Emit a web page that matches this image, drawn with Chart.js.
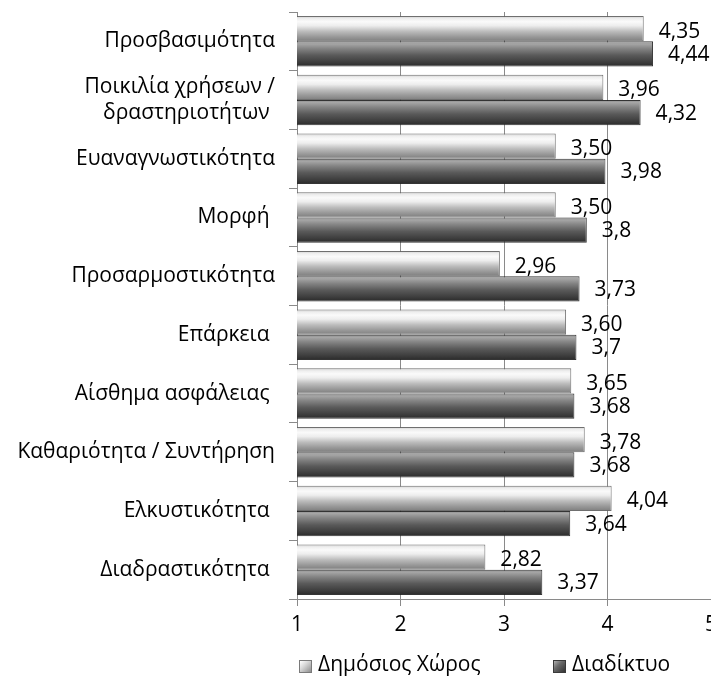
<!DOCTYPE html>
<html>
<head>
<meta charset="utf-8">
<script src="https://cdn.jsdelivr.net/npm/chart.js@4/dist/chart.umd.min.js"></script>
<style>
  html, body { margin: 0; padding: 0; background: #fff; overflow: hidden; }
  #wrap { position: relative; width: 711px; height: 676px; }
  #wrap canvas { position: absolute; left: 0; top: 0; }
  .legend-item { position: absolute; top: 653px; height: 21px; line-height: 21px;
    font-family: "Open Sans", sans-serif; font-size: 21px; color: #000; white-space: nowrap; }
  .swatch { position: absolute; top: 660px; width: 13px; height: 13px; box-sizing: border-box; }
  .sw-light { left: 299px; border: 1px solid #7a7a7a;
    background: linear-gradient(135deg, #ffffff 0%, #d8d8d8 40%, #8e8e8e 100%); }
  .sw-dark { left: 553px; border: 1px solid #3a3a3a;
    background: linear-gradient(135deg, #b0b0b0 0%, #6a6a6a 40%, #333 100%); }
</style>
</head>
<body>
<div id="wrap">
  <canvas id="chart" width="711" height="676"></canvas>
  <div class="swatch sw-light"></div>
  <div class="legend-item" style="left:318px">Δημόσιος Χώρος</div>
  <div class="swatch sw-dark"></div>
  <div class="legend-item" style="left:572px">Διαδίκτυο</div>
</div>
<script>
// Evaluation criteria (rows of the chart)
const criteria = [
  'Προσβασιμότητα',
  ['Ποικιλία χρήσεων /', 'δραστηριοτήτων '],
  'Ευαναγνωστικότητα',
  'Μορφή ',
  'Προσαρμοστικότητα',
  'Επάρκεια ',
  'Αίσθημα ασφάλειας ',
  'Καθαριότητα / Συντήρηση',
  'Ελκυστικότητα ',
  'Διαδραστικότητα '
];

// Mean scores per criterion
const publicSpace = [4.35, 3.96, 3.50, 3.50, 2.96, 3.60, 3.65, 3.78, 4.04, 2.82];
const internet    = [4.44, 4.32, 3.98, 3.8, 3.73, 3.7, 3.68, 3.68, 3.64, 3.37];

// Axis ticks
const axisTicks = [1, 2, 3, 4, 5];

const seriesNames = ['Δημόσιος Χώρος', 'Διαδίκτυο'];

const CAT_PCT = 0.86;
const FONT = '"Open Sans", sans-serif';

const lightStops = [
  [0, '#cfcfcf'], [0.1, '#eeeeee'], [0.22, '#fafafa'], [0.38, '#ededed'],
  [0.6, '#bdbdbd'], [0.82, '#989898'], [0.95, '#858585'], [1, '#6a6a6a']
];
const darkStops = [
  [0, '#8c8c8c'], [0.1, '#a6a6a6'], [0.28, '#858585'], [0.55, '#5a5a5a'],
  [0.82, '#3e3e3e'], [1, '#2a2a2a']
];

// Vertical shading for each bar, computed from the category scale
function barFill(stops, datasetIndex, fallback) {
  return function (ctx) {
    const chart = ctx.chart;
    const ys = chart.scales && chart.scales.y;
    if (!chart.chartArea || !ys || ctx.dataIndex === undefined) return fallback;
    const center = ys.getPixelForValue(ctx.dataIndex);
    const cat = ys.height / criteria.length;
    const thick = cat * CAT_PCT / 2;
    const top = datasetIndex === 0 ? center - thick : center;
    const g = chart.ctx.createLinearGradient(0, top, 0, top + thick);
    stops.forEach(s => g.addColorStop(s[0], s[1]));
    return g;
  };
}

function fmt(v, datasetIndex) {
  const s = datasetIndex === 0 ? v.toFixed(2) : String(v);
  return s.replace('.', ',');
}

// Value labels to the right of each bar
const valueLabels = {
  id: 'valueLabels',
  afterDatasetsDraw(chart) {
    const c = chart.ctx;
    c.save();
    c.font = '21px ' + FONT;
    c.fillStyle = '#000';
    c.textAlign = 'left';
    c.textBaseline = 'middle';
    chart.data.datasets.forEach((ds, di) => {
      const meta = chart.getDatasetMeta(di);
      meta.data.forEach((el, i) => {
        c.fillText(fmt(ds.data[i], di), el.x + 15, el.y + (di === 0 ? 3 : 1));
      });
    });
    c.restore();
  }
};

new Chart(document.getElementById('chart'), {
  type: 'bar',
  data: {
    labels: criteria,
    datasets: [
      {
        label: seriesNames[0],
        data: publicSpace,
        backgroundColor: barFill(lightStops, 0, '#bbbbbb'),
        borderColor: 'rgba(95,95,95,0.9)',
        borderWidth: 1,
        borderSkipped: 'start',
        categoryPercentage: CAT_PCT,
        barPercentage: 1
      },
      {
        label: seriesNames[1],
        data: internet,
        backgroundColor: barFill(darkStops, 1, '#555555'),
        borderColor: 'rgba(30,30,30,0.9)',
        borderWidth: 1,
        borderSkipped: 'start',
        categoryPercentage: CAT_PCT,
        barPercentage: 1
      }
    ]
  },
  options: {
    indexAxis: 'y',
    responsive: false,
    animation: false,
    layout: { padding: { top: 12, right: 0, bottom: 0, left: 0 } },
    plugins: {
      legend: { display: false },
      tooltip: { enabled: false }
    },
    scales: {
      x: {
        type: 'linear',
        min: axisTicks[0],
        max: axisTicks[axisTicks.length - 1],
        afterBuildTicks(scale) { scale.ticks = axisTicks.map(v => ({ value: v })); },
        afterFit(scale) { scale.height = 77; scale.paddingRight = 0; scale.paddingLeft = 0; },
        grid: { color: '#8a8a8a', lineWidth: 1, tickLength: 7, drawTicks: true },
        border: { display: true, color: '#8a8a8a', width: 1 },
        ticks: { color: '#000', font: { family: FONT, size: 21 }, padding: 6 }
      },
      y: {
        type: 'category',
        afterFit(scale) { scale.width = 297; scale.paddingTop = 0; scale.paddingBottom = 0; },
        grid: { drawOnChartArea: false, color: '#8a8a8a', tickLength: 8, offset: true },
        border: { display: true, color: '#8a8a8a', width: 1 },
        ticks: { color: '#000', font: { family: FONT, size: 21, lineHeight: 1.2 }, padding: 14 }
      }
    }
  },
  plugins: [valueLabels]
});
</script>
</body>
</html>
